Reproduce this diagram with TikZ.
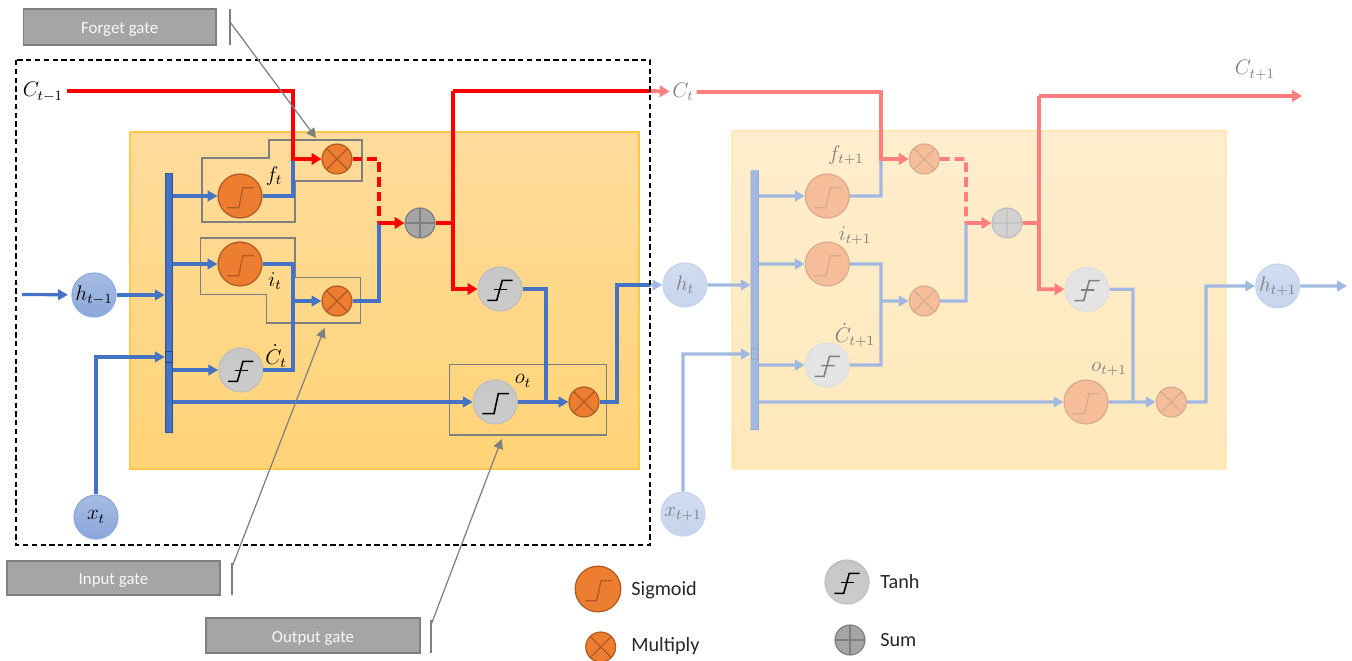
\documentclass[tikz,border=0pt]{standalone}
\usepackage{amssymb}
\usepackage{amsmath}
\usepackage{fontspec}
\usetikzlibrary{arrows.meta}
\newfontfamily\gatefont{Carlito}
\definecolor{lineblue}{HTML}{4472C4}
\definecolor{linered}{HTML}{FF0000}
\definecolor{cellorange}{HTML}{ED7D31}
\definecolor{celledge}{HTML}{AE5A21}
\definecolor{gatefill}{HTML}{A5A5A5}
\definecolor{gateedge}{HTML}{7F7F7F}
\definecolor{panelgold}{HTML}{FFC84A}
\definecolor{paneltop}{HTML}{FFDC9C}
\definecolor{panelbottom}{HTML}{FFD376}
\tikzset{
  blueline/.style={draw=lineblue,line width=1.8pt},
  bluearrow/.style={blueline,-{Triangle[length=5.6pt,width=6pt]}},
  redline/.style={draw=linered,line width=2.2pt},
  redarrow/.style={redline,-{Triangle[length=5.6pt,width=6.5pt]}},
  reddash/.style={redline,dash pattern=on 5.6pt off 2.8pt},
  gatepoly/.style={draw=gateedge,line width=.7pt},
  gatepointer/.style={draw=gateedge,line width=.7pt,-{Triangle[length=5.5pt,width=5.5pt]}},
  gatebox/.style={draw=gateedge,line width=1pt,fill=gatefill,inner sep=0pt,text height=7.5pt,text depth=0pt,text=white!92!gatefill,font=\gatefont\fontsize{9.6}{12}\selectfont},
  panelshade/.style={top color=paneltop,bottom color=panelbottom},
  paneledge/.style={draw=panelgold,line width=.6pt},
  mathlabel/.style={inner sep=1.5pt,font=\fontsize{11.5}{13}\selectfont},
  legendlabel/.style={anchor=west,inner sep=0pt,text height=7.7pt,text depth=0pt,text=black!85,font=\gatefont\fontsize{11.5}{14}\selectfont},
  sigmoid/.style={circle,draw=celledge,line width=.7pt,fill=cellorange,minimum size=25pt,inner sep=0pt,
    path picture={\draw[draw=celledge,line width=.7pt] (path picture bounding box.center) ++(-13,11.7) -- ++(11.7,0) -- ++(4.3,-20) -- ++(10.7,0);}},
  sigmoidgray/.style={circle,draw=black!25,line width=.7pt,top color=black!22,bottom color=black!20,minimum size=25pt,inner sep=0pt,
    path picture={\draw[draw=black,line width=.9pt] (path picture bounding box.center) ++(-13,11.7) -- ++(11.7,0) -- ++(4.3,-20) -- ++(10.7,0);}},
  tanhnode/.style={circle,draw=black!25,line width=.7pt,top color=black!22,bottom color=black!20,minimum size=25pt,inner sep=0pt,
    path picture={\draw[draw=black,line width=.9pt] (path picture bounding box.center) ++(-12.7,11.3) -- ++(9.4,0) -- ++(5.6,-20) -- ++(10.4,0);
      \draw[draw=black,line width=.9pt] (path picture bounding box.center) ++(-6,.7) -- ++(13.3,0);}},
  multnode/.style={circle,draw=celledge,line width=.7pt,fill=cellorange,minimum size=17pt,inner sep=0pt,
    path picture={\draw[draw=celledge,line width=.7pt] (path picture bounding box.north west) -- (path picture bounding box.south east);
      \draw[draw=celledge,line width=.7pt] (path picture bounding box.north east) -- (path picture bounding box.south west);}},
  sumnode/.style={circle,draw=gateedge,line width=.7pt,fill=gatefill,minimum size=17pt,inner sep=0pt,
    path picture={\draw[draw=gateedge,line width=.7pt] (path picture bounding box.north) -- (path picture bounding box.south);
      \draw[draw=gateedge,line width=.7pt] (path picture bounding box.east) -- (path picture bounding box.west);}},
  statenode/.style={circle,draw=lineblue!60,line width=.7pt,top color=lineblue!48,bottom color=lineblue!62,minimum size=25pt,inner sep=0pt,font=\fontsize{11.5}{13}\selectfont},
  railnode/.style={draw=lineblue!75!black,line width=.4pt,fill=lineblue,minimum width=4.2pt,inner sep=0pt},
  railmark/.style={draw=lineblue!60!black,line width=.3pt,minimum width=3.6pt,minimum height=6pt,inner sep=0pt}
}
\begin{document}
\begin{tikzpicture}[x=.02cm,y=-.02cm]
\useasboundingbox (0,0) rectangle (1352,661);
\shade[panelshade] (130,132) rectangle (639,469);
\draw[paneledge] (130,132) rectangle (639,469);
\draw[gatepoly] (202,158)--(269,158)--(269,140)--(362,140)--(362,181)--(295,181)--(295,222)--(202,222)--cycle;
\draw[gatepoly] (200.7,238)--(295,238)--(295,277.3)--(360.7,277.3)--(360.7,323)--(266.7,323)--(266.7,294.7)--(200.7,294.7)--cycle;
\draw[gatepoly] (449.3,364.7) rectangle (606.7,435);
\node[railnode,minimum height=147.4pt] (rail) at (168.7,302.5) {};
\node[railmark] (railtap) at (168.7,357) {};
\node[statenode] (hprev) at (94,295) {\makebox[0pt]{$h_{t-1}$}};
\node[statenode] (xcur) at (96,517) {$x_t$};
\node[sigmoid] (sigf) at (240,196) {};
\node[sigmoid] (sigi) at (240,264) {};
\node[tanhnode] (tanc) at (240.7,370) {};
\node[tanhnode] (tanh) at (500,289) {};
\node[sigmoidgray] (sigo) at (495.3,402) {};
\node[multnode] (mulf) at (337,159) {};
\node[multnode] (muli) at (337,301) {};
\node[multnode] (mulo) at (584,402) {};
\node[sumnode] (summ) at (420,223) {};
\node[mathlabel] (cprev) at (43,92) {$C_{t-1}$};
\node[mathlabel] (flabel) at (274,176) {$f_t$};
\node[mathlabel] (ilabel) at (275,281) {$i_t$};
\node[mathlabel] (clabel) at (276,356) {$\dot{C}_t$};
\node[mathlabel] (olabel) at (523,381) {$o_t$};
\coordinate (hin) at (22,294.5);
\coordinate (cstart) at (67,91);
\coordinate (jf) at (293,159);
\coordinate (ji) at (293,301);
\coordinate (js) at (379,223);
\coordinate (jt) at (453,223);
\coordinate (ctop) at (453,91);
\coordinate (cbox) at (650,91);
\coordinate (jo) at (546,402);
\coordinate (hbox) at (650,285);
\coordinate (hup) at (617,285);
\draw[bluearrow,shorten >=2pt] (hin) -- (hprev);
\draw[bluearrow] (hprev) -- (rail.west |- hprev);
\draw[bluearrow] (xcur) |- (rail.west |- railtap);
\draw[bluearrow] (rail.east |- sigf) -- (sigf);
\draw[bluearrow] (rail.east |- sigi) -- (sigi);
\draw[bluearrow] (rail.east |- tanc) -- (tanc);
\draw[bluearrow] (rail.east |- sigo) -- (sigo);
\draw[blueline] (sigf) -| (jf);
\draw[blueline] (sigi) -| (ji);
\draw[blueline] (tanc) -| (ji);
\draw[bluearrow] (ji) -- (muli);
\draw[blueline] (muli) -| (js);
\draw[blueline] (tanh) -| (jo);
\draw[bluearrow] (sigo) -- (mulo);
\draw[blueline] (mulo.east) -| (hup) -- (hbox);
\draw[redarrow] (cstart) -| (jf) -- (mulf);
\draw[reddash] (mulf) -| (js);
\draw[redarrow] (js) -- (summ);
\draw[redline] (summ) -- (jt);
\draw[redline] (ctop) -- (cbox);
\draw[redarrow] (ctop) |- (tanh);
\begin{scope}[transparency group,opacity=.5]
\shade[panelshade] (732,131) rectangle (1226,469);
\draw[paneledge] (732,131) rectangle (1226,469);
\node[railnode,minimum height=147.5pt] (railb) at (754.7,300.2) {};
\node[railmark] (railtapb) at (754.7,354) {};
\node[statenode] (hcur) at (685,285) {$h_t$};
\node[statenode] (xnext) at (683,514) {\makebox[0pt]{$x_{t+1}$}};
\node[statenode] (hnext) at (1277.7,286) {\makebox[0pt]{$h_{t+1}$}};
\node[sigmoid] (sigfb) at (827.3,196) {};
\node[sigmoid] (sigib) at (827.3,264) {};
\node[tanhnode] (tancb) at (827.3,365) {};
\node[tanhnode] (tanhb) at (1087,289.3) {};
\node[sigmoid] (sigob) at (1086,402) {};
\node[multnode] (mulfb) at (924.3,159) {};
\node[multnode] (mulib) at (924.3,301) {};
\node[multnode] (mulob) at (1171.3,402) {};
\node[sumnode] (summb) at (1007,223) {};
\node[mathlabel] (ccur) at (683,92) {$C_t$};
\node[mathlabel] (cnext) at (1255,70) {$C_{t+1}$};
\node[mathlabel] (flabelb) at (846,155) {$f_{t+1}$};
\node[mathlabel] (ilabelb) at (855,236) {$i_{t+1}$};
\node[mathlabel] (clabelb) at (855,335) {$\dot{C}_{t+1}$};
\node[mathlabel] (olabelb) at (1109,369) {$o_{t+1}$};
\coordinate (jfb) at (881,159);
\coordinate (jib) at (881,301);
\coordinate (jsb) at (966,223);
\coordinate (jtb) at (1039,223);
\coordinate (ctopb) at (1039,96);
\coordinate (cend) at (1302,96);
\coordinate (jopb) at (1133,402);
\coordinate (hupb) at (1206,286);
\coordinate (hend) at (1347,286);
\draw[redarrow] (cbox) -- (ccur);
\draw[bluearrow] (hbox) -- (hcur);
\draw[bluearrow] (hcur) -- (railb.west |- hcur);
\draw[bluearrow] (xnext) |- (railb.west |- railtapb);
\draw[bluearrow] (railb.east |- sigfb) -- (sigfb);
\draw[bluearrow] (railb.east |- sigib) -- (sigib);
\draw[bluearrow] (railb.east |- tancb) -- (tancb);
\draw[bluearrow] (railb.east |- sigob) -- (sigob);
\draw[blueline] (sigfb) -| (jfb);
\draw[blueline] (sigib) -| (jib);
\draw[blueline] (tancb) -| (jib);
\draw[bluearrow] (jib) -- (mulib);
\draw[blueline] (mulib) -| (jsb);
\draw[blueline] (tanhb) -| (jopb);
\draw[bluearrow] (sigob) -- (mulob);
\draw[bluearrow] (mulob.east) -| (hupb) |- (hnext);
\draw[bluearrow] (hnext) -- (hend);
\draw[redarrow] (ccur) -| (jfb) -- (mulfb);
\draw[reddash] (mulfb) -| (jsb);
\draw[redarrow] (jsb) -- (summb);
\draw[redline] (summb) -- (jtb);
\draw[redarrow] (cend -| jtb) -- (cend);
\draw[redarrow] (ctopb) |- (tanhb);
\end{scope}
\draw[line width=.7pt,dash pattern=on 3pt off 2pt] (16,60) rectangle (650,545);
\node[gatebox,minimum width=109.5pt,minimum height=20.5pt] (forget) at (119.7,27) {Forget gate};
\node[gatebox,minimum width=121pt,minimum height=19.5pt] (input) at (113.5,578) {Input gate};
\node[gatebox,minimum width=121.5pt,minimum height=19.5pt] (output) at (313,635.5) {Output gate};
\coordinate (fbara) at (230,9);
\coordinate (fbarb) at (230,45);
\coordinate (ibara) at (232,563);
\coordinate (ibarb) at (232,595);
\coordinate (obara) at (431,620);
\coordinate (obarb) at (431,653);
\coordinate (fstart) at (230,22);
\coordinate (istart) at (232,567);
\coordinate (ostart) at (431,625);
\coordinate (ftip) at (316,138);
\coordinate (itip) at (324.5,328);
\coordinate (otip) at (501.7,439);
\draw[gatepoly] (fbara) -- (fbarb);
\draw[gatepoly] (ibara) -- (ibarb);
\draw[gatepoly] (obara) -- (obarb);
\draw[gatepointer] (fstart) -- (ftip);
\draw[gatepointer] (istart) -- (itip);
\draw[gatepointer] (ostart) -- (otip);
\node[sigmoid,minimum size=26pt] (legsig) at (598,589) {};
\node[multnode] (legmul) at (600.7,647) {};
\node[tanhnode] (legtan) at (847,582) {};
\node[sumnode] (legsum) at (850,640) {};
\node[legendlabel] (legsigt) at (631,589) {Sigmoid};
\node[legendlabel] (legmult) at (631,645) {Multiply};
\node[legendlabel] (legtant) at (880,582) {Tanh};
\node[legendlabel] (legsumt) at (880,640) {Sum};
\end{tikzpicture}
\end{document}
